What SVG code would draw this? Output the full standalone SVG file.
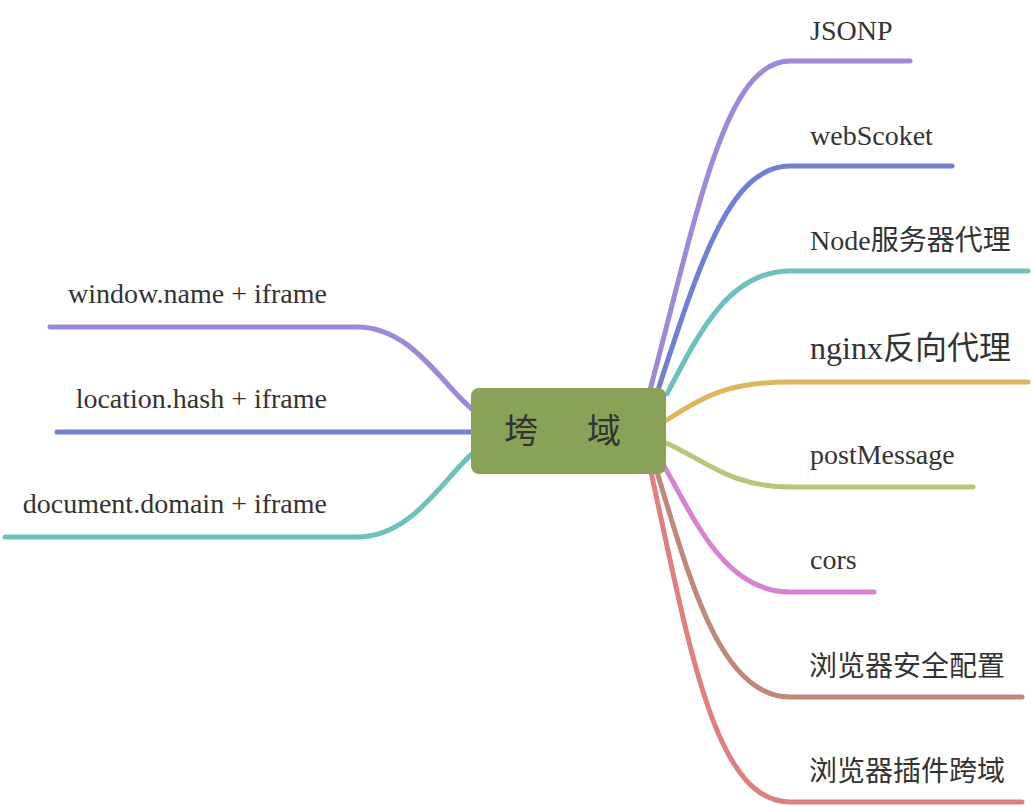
<svg xmlns="http://www.w3.org/2000/svg" width="1032" height="806" viewBox="0 0 1032 806">
<style>
.c{fill:none;stroke-width:5;stroke-linecap:round;stroke-linejoin:round}
.t{font-family:"Liberation Serif","Noto Sans CJK SC",serif;font-size:28px;fill:#333}
.big{font-size:32px}
.cjk{font-family:"Noto Sans CJK SC","Liberation Sans",sans-serif;font-size:28px;fill:#333}
</style>
<rect width="1032" height="806" fill="#ffffff"/>
<g id="connectors">
<path class="c" stroke="#9d88d9" d="M650,390 C698,210 725,61 790,61 L910,61"/>
<path class="c" stroke="#717fd5" d="M658,390 C700,262 730,166 790,166 L952,166"/>
<path class="c" stroke="#6cc1bd" d="M667,394 C700,330 730,271 790,271 L1028,271"/>
<path class="c" stroke="#dcb75e" d="M667,420 C705,395 730,382 790,382 L1028,382"/>
<path class="c" stroke="#b5c77a" d="M666,443 C705,460 730,487 790,487 L973,487"/>
<path class="c" stroke="#d982d3" d="M664,466 C695,520 725,592 790,592 L874,592"/>
<path class="c" stroke="#c0877a" d="M657,472 C690,580 720,697 790,697 L1022,697"/>
<path class="c" stroke="#e07f80" d="M651,472 C690,650 715,802 790,802 L1022,802"/>
<path class="c" stroke="#9d88d9" d="M473,410 C442,385 412,327 357,327 L50,327"/>
<path class="c" stroke="#717fd5" d="M473,432 L57,432"/>
<path class="c" stroke="#6cc1bd" d="M473,453 C442,480 412,537 357,537 L5,537"/>
</g>
<g id="center">
<rect x="471" y="388" width="195" height="86" rx="8" fill="#8aa257"/>
<text class="cjk" style="font-size:34px" y="443"><tspan x="504">垮</tspan><tspan x="587">域</tspan></text>
</g>
<g id="n-jsonp"><text class="t" x="810" y="40">JSONP</text></g>
<g id="n-websocket"><text class="t" x="810" y="145">webScoket</text></g>
<g id="n-node"><text class="t" x="810" y="250">Node服务器代理</text></g>
<g id="n-nginx"><text class="t big" x="810" y="359">nginx反向代理</text></g>
<g id="n-postmessage"><text class="t" x="810" y="464">postMessage</text></g>
<g id="n-cors"><text class="t" x="810" y="569">cors</text></g>
<g id="n-browser-config"><text class="cjk" x="809" y="676">浏览器安全配置</text></g>
<g id="n-browser-plugin"><text class="cjk" x="809" y="781">浏览器插件跨域</text></g>
<g id="n-window"><text class="t" x="327" y="303" text-anchor="end">window.name + iframe</text></g>
<g id="n-location"><text class="t" x="327" y="408" text-anchor="end">location.hash + iframe</text></g>
<g id="n-document"><text class="t" x="327" y="513" text-anchor="end">document.domain + iframe</text></g>
</svg>
